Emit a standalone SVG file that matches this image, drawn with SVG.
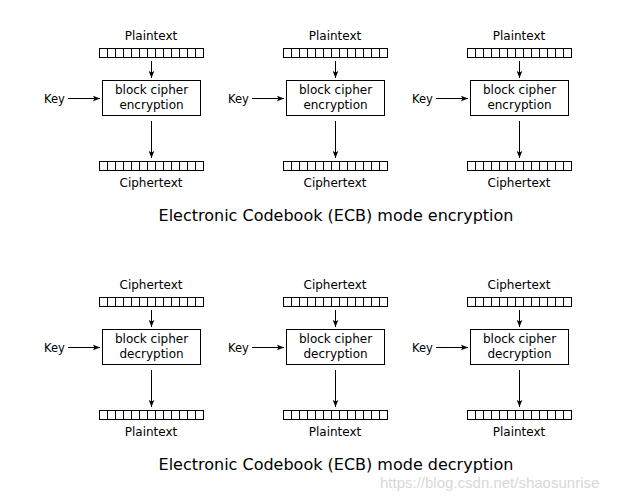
<svg xmlns="http://www.w3.org/2000/svg" width="620" height="500" viewBox="0 0 620 500">
<defs>
<style>
text{font-family:"DejaVu Sans","Noto Sans",sans-serif;fill:#000}
.lbl{font-size:12px;text-anchor:middle}
.key{font-size:11.5px}
.ttl{font-size:16px;text-anchor:middle}
.box{fill:#fff;stroke:#000;stroke-width:1}
.cell{fill:#fff;stroke:#000;stroke-width:1}
.ln{stroke:#000;stroke-width:1;fill:none}
.wm{font-family:"Liberation Sans",Arial,sans-serif;font-size:15px;fill:#d8d8d8}
</style>
<marker id="ah" viewBox="0 0 10 10" refX="10" refY="5" markerWidth="7" markerHeight="7" markerUnits="userSpaceOnUse" orient="auto">
<path d="M0,1 L10,5 L0,9 L2,5 z" fill="#000"/>
</marker>
<g id="reg">
<rect class="cell" x="99.5" y="48.5" width="104" height="9"/>
<path class="ln" d="M107.5,48.5v9M115.5,48.5v9M123.5,48.5v9M131.5,48.5v9M139.5,48.5v9M147.5,48.5v9M155.5,48.5v9M163.5,48.5v9M171.5,48.5v9M179.5,48.5v9M187.5,48.5v9M195.5,48.5v9"/>
</g>
</defs>
<rect width="620" height="500" fill="#fff"/>

<g id="connectors">
<g id="enc-arrows">
<path class="ln" d="M151.5,61 V78" marker-end="url(#ah)"/>
<path class="ln" d="M151.5,121 V158" marker-end="url(#ah)"/>
<path class="ln" d="M68,98.5 H100" marker-end="url(#ah)"/>
<path class="ln" d="M335.5,61 V78" marker-end="url(#ah)"/>
<path class="ln" d="M335.5,121 V158" marker-end="url(#ah)"/>
<path class="ln" d="M252,98.5 H284" marker-end="url(#ah)"/>
<path class="ln" d="M519.5,61 V78" marker-end="url(#ah)"/>
<path class="ln" d="M519.5,121 V158" marker-end="url(#ah)"/>
<path class="ln" d="M436,98.5 H468" marker-end="url(#ah)"/>
</g>
<g id="dec-arrows" transform="translate(0,249)">
<path class="ln" d="M151.5,61 V78" marker-end="url(#ah)"/>
<path class="ln" d="M151.5,121 V158" marker-end="url(#ah)"/>
<path class="ln" d="M68,98.5 H100" marker-end="url(#ah)"/>
<path class="ln" d="M335.5,61 V78" marker-end="url(#ah)"/>
<path class="ln" d="M335.5,121 V158" marker-end="url(#ah)"/>
<path class="ln" d="M252,98.5 H284" marker-end="url(#ah)"/>
<path class="ln" d="M519.5,61 V78" marker-end="url(#ah)"/>
<path class="ln" d="M519.5,121 V158" marker-end="url(#ah)"/>
<path class="ln" d="M436,98.5 H468" marker-end="url(#ah)"/>
</g>
</g>

<g id="enc1">
<text class="lbl" x="151" y="40">Plaintext</text>
<use href="#reg"/>
<text class="key" x="44" y="103">Key</text>
<rect class="box" x="102.5" y="80.5" width="98" height="35"/>
<text class="lbl" x="151.5" y="94">block cipher</text>
<text class="lbl" x="151.5" y="109">encryption</text>
<use href="#reg" y="113"/>
<text class="lbl" x="151" y="187">Ciphertext</text>
</g>
<g id="enc2" transform="translate(184,0)">
<text class="lbl" x="151" y="40">Plaintext</text>
<use href="#reg"/>
<text class="key" x="44" y="103">Key</text>
<rect class="box" x="102.5" y="80.5" width="98" height="35"/>
<text class="lbl" x="151.5" y="94">block cipher</text>
<text class="lbl" x="151.5" y="109">encryption</text>
<use href="#reg" y="113"/>
<text class="lbl" x="151" y="187">Ciphertext</text>
</g>
<g id="enc3" transform="translate(368,0)">
<text class="lbl" x="151" y="40">Plaintext</text>
<use href="#reg"/>
<text class="key" x="44" y="103">Key</text>
<rect class="box" x="102.5" y="80.5" width="98" height="35"/>
<text class="lbl" x="151.5" y="94">block cipher</text>
<text class="lbl" x="151.5" y="109">encryption</text>
<use href="#reg" y="113"/>
<text class="lbl" x="151" y="187">Ciphertext</text>
</g>
<text id="enc-title" class="ttl" x="336" y="221">Electronic Codebook (ECB) mode encryption</text>

<g id="dec1" transform="translate(0,249)">
<text class="lbl" x="151" y="40">Ciphertext</text>
<use href="#reg"/>
<text class="key" x="44" y="103">Key</text>
<rect class="box" x="102.5" y="80.5" width="98" height="35"/>
<text class="lbl" x="151.5" y="94">block cipher</text>
<text class="lbl" x="151.5" y="109">decryption</text>
<use href="#reg" y="113"/>
<text class="lbl" x="151" y="187">Plaintext</text>
</g>
<g id="dec2" transform="translate(184,249)">
<text class="lbl" x="151" y="40">Ciphertext</text>
<use href="#reg"/>
<text class="key" x="44" y="103">Key</text>
<rect class="box" x="102.5" y="80.5" width="98" height="35"/>
<text class="lbl" x="151.5" y="94">block cipher</text>
<text class="lbl" x="151.5" y="109">decryption</text>
<use href="#reg" y="113"/>
<text class="lbl" x="151" y="187">Plaintext</text>
</g>
<g id="dec3" transform="translate(368,249)">
<text class="lbl" x="151" y="40">Ciphertext</text>
<use href="#reg"/>
<text class="key" x="44" y="103">Key</text>
<rect class="box" x="102.5" y="80.5" width="98" height="35"/>
<text class="lbl" x="151.5" y="94">block cipher</text>
<text class="lbl" x="151.5" y="109">decryption</text>
<use href="#reg" y="113"/>
<text class="lbl" x="151" y="187">Plaintext</text>
</g>
<text id="dec-title" class="ttl" x="336" y="470">Electronic Codebook (ECB) mode decryption</text>

<text id="watermark" class="wm" x="380" y="488">https://blog.csdn.net/shaosunrise</text>
</svg>
